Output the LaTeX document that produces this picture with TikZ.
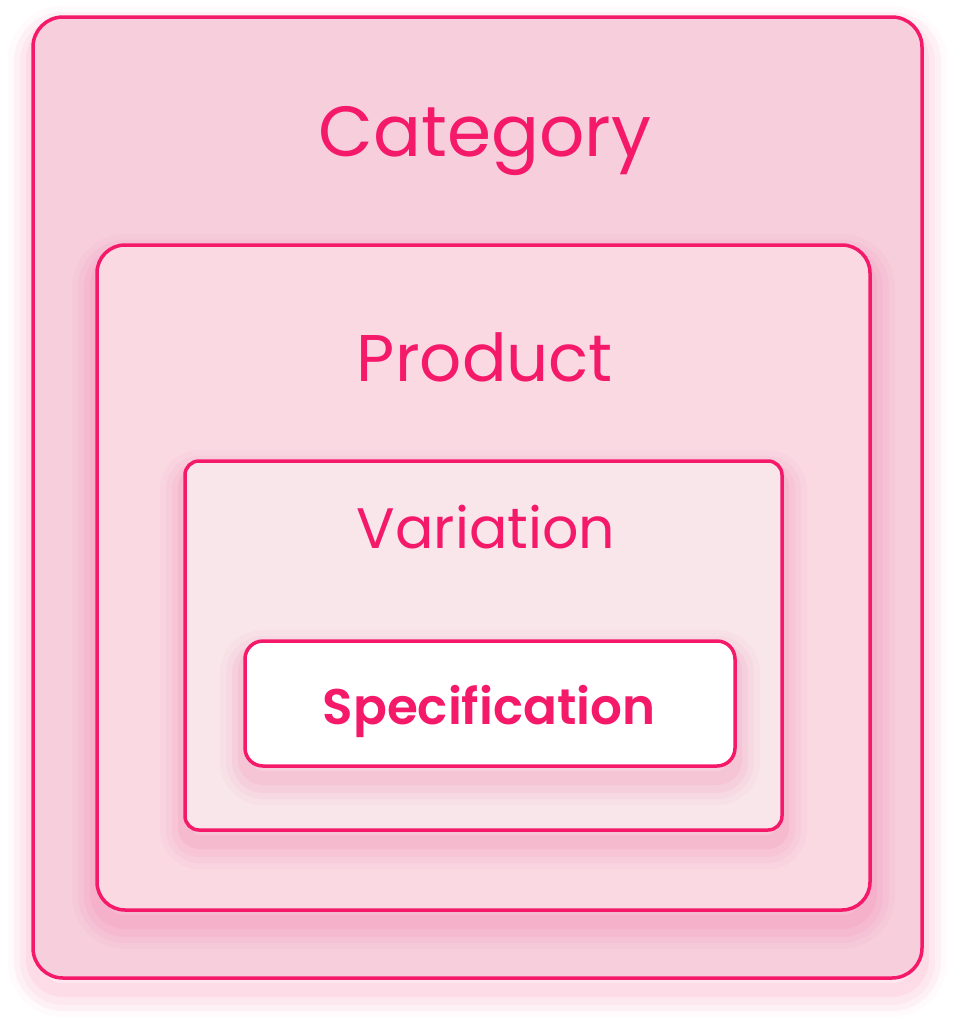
\documentclass[tikz,border=0pt]{standalone}
\usepackage{fontspec}
\setmainfont{Poppins}
\newfontfamily\specfont{Poppins SemiBold}
\usetikzlibrary{positioning}
\definecolor{rim}{HTML}{F5196A}
\definecolor{catfill}{HTML}{F7CEDC}
\definecolor{prodfill}{HTML}{FAD9E3}
\definecolor{varfill}{HTML}{F8E6EB}
\begin{document}
\begin{tikzpicture} [
                x=1pt, y=-1pt,
                glow/.style={
                    preaction={draw=rim, draw opacity=0.025, line width=50pt, transform canvas={yshift=-14pt}},
                    preaction={draw=rim, draw opacity=0.035, line width=38pt, transform canvas={yshift=-14pt}},
                    preaction={draw=rim, draw opacity=0.045, line width=26pt, transform canvas={yshift=-14pt}},
                    preaction={draw=rim, draw opacity=0.06, line width=14pt, transform canvas={yshift=-12pt}}},
                box/.style={rectangle, glow, draw=rim, line width=3.5pt, inner sep=0pt},
                heading/.style={text=rim, inner sep=0pt, anchor=base},
            ]
            \useasboundingbox (0,0) rectangle (956,1028);
            % the nested boxes, outside first
            \node[box, fill=catfill, rounded corners=30pt, minimum width=889pt, minimum height=961pt] (cat) at (477.5,497.5) {};
            \node[box, fill=prodfill, rounded corners=28pt, minimum width=773pt, minimum height=665pt] (prod) at (483.5,577.5) {};
            \node[box, fill=varfill, rounded corners=14pt, minimum width=597pt, minimum height=369pt] (var) at (483.5,645.5) {};
            \node[box, fill=white, rounded corners=18pt, minimum width=490pt, minimum height=125pt] (spec) at (490,703.5) {};
            % the titles
            \node[heading, font=\fontsize{71}{71}\selectfont] (catname) at (485,156) {Category};
            \node[heading, font=\fontsize{66}{66}\selectfont] (prodname) at (485,381) {Product};
            \node[heading, font=\fontsize{57}{57}\selectfont] (varname) at (486,548) {Variation};
            \node[heading, font=\fontsize{50}{50}\specfont] (specname) at (489,724) {Specification};
\end{tikzpicture}
\end{document}
